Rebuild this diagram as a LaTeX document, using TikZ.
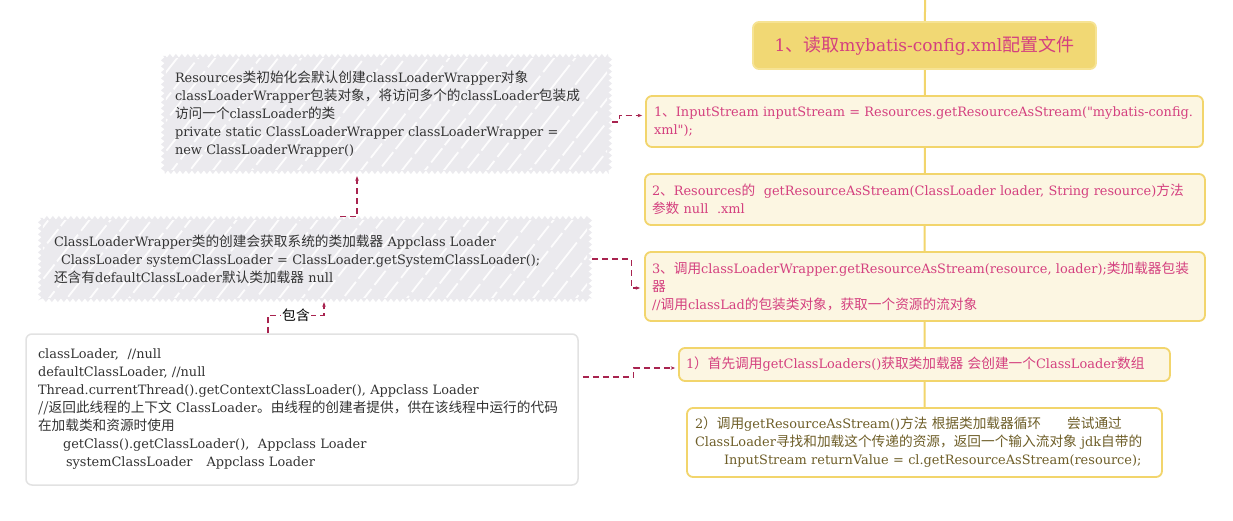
\documentclass[tikz,border=0pt]{standalone}
\usepackage{fontspec}
\setmainfont{DejaVu Serif}[Ligatures=TeXOff]
\newfontfamily\cjkfont{Noto Sans CJK SC}[Scale=1.06]
\newcommand{\zhs}[1]{{\cjkfont #1}}
\usetikzlibrary{arrows.meta,backgrounds,decorations.pathmorphing,calc}
\definecolor{pinktxt}{HTML}{D4407F}
\definecolor{yelline}{HTML}{F2D56C}
\definecolor{creamfill}{HTML}{FCF6E2}
\definecolor{titlefill}{HTML}{F1D874}
\definecolor{titleline}{HTML}{F6E394}
\definecolor{grayfill}{HTML}{EBEAEE}
\definecolor{darktxt}{HTML}{333333}
\definecolor{olivetxt}{HTML}{6E5E28}
\definecolor{connred}{HTML}{A8234F}
\definecolor{boxgray}{HTML}{E2E2E2}
\tikzset{
  txt/.style={font=\fontsize{12.9}{18}\selectfont, align=left, inner ysep=0pt},
  graybox/.style={txt, text=darktxt},
  whitebox/.style={txt, text=darktxt, draw=boxgray, line width=1.5pt, fill=white, rounded corners=6pt},
  yelbox/.style={txt, text=pinktxt, draw=yelline, line width=1.8pt, fill=creamfill, rounded corners=6pt},
  plainbox/.style={txt, text=olivetxt, draw=yelline, line width=1.8pt, fill=white, rounded corners=6pt},
  titlebox/.style={font=\fontsize{17}{20}\selectfont, text=pinktxt, draw=titleline, line width=1.8pt, fill=titlefill, rounded corners=6pt},
  conn/.style={draw=connred, line width=1.1pt, dash pattern=on 6pt off 4pt, -{Stealth[length=4.5pt,width=3.5pt]}},
  lbl/.style={font=\fontsize{13}{14}\selectfont, fill=white, text=black, inner sep=1pt},
  jag/.style={fill=grayfill, decorate, decoration={zigzag, segment length=6pt, amplitude=1.8pt}},
  hatch/.style={draw=white, line width=1.8pt, opacity=0.9, dash pattern=on 34pt off 5pt on 18pt off 4pt}
}
\begin{document}
\begin{tikzpicture}[x=1pt,y=-1pt]
\begin{scope}[on background layer]
  \fill[white] (0,0) rectangle (1233,521);
\end{scope}
\path[use as bounding box] (0,0) rectangle (1233,521);
\coordinate (top) at (925,0);

% right column
\node[titlebox, minimum width=343pt, minimum height=47pt] (title) at (924.5,45.5)
  {1\zhs{、读取}mybatis-config.xml\zhs{配置文件}};
\node[yelbox, minimum width=557pt, minimum height=51pt, inner xsep=8pt, text width=541pt] (b1) at (924.5,121.5)
  {1\zhs{、}InputStream inputStream = Resources.getResourceAsStream("mybatis-config.\\
   xml");};
\node[yelbox, minimum width=560pt, minimum height=51pt, inner xsep=7pt, text width=546pt] (b2) at (925,199.5)
  {2\zhs{、}Resources\zhs{的}\ \ getResourceAsStream(ClassLoader loader, String resource)\zhs{方法}\\
   \zhs{参数} null\ \ .xml};
\node[yelbox, minimum width=560pt, minimum height=69pt, inner xsep=7pt, text width=546pt] (b3) at (925,286.5)
  {3\zhs{、调用}classLoaderWrapper.getResourceAsStream(resource, loader);\zhs{类加载器包装}\\
   \zhs{器}\\
   //\zhs{调用}classLad\zhs{的包装类对象，获取一个资源的流对象}};
\node[yelbox, minimum width=491pt, minimum height=33pt, inner xsep=7pt, text width=477pt] (s1) at (924.5,364.5)
  {1\zhs{）首先调用}getClassLoaders()\zhs{获取类加载器 会创建一个}ClassLoader\zhs{数组}};
\node[plainbox, minimum width=475pt, minimum height=69pt, inner xsep=8pt, text width=459pt] (s2) at (924.5,442.5)
  {2\zhs{）调用}getResourceAsStream()\zhs{方法 根据类加载器循环}\hspace*{26pt}\zhs{尝试通过}\\
   ClassLoader\zhs{寻找和加载这个传递的资源，返回一个输入流对象} jdk\zhs{自带的}\\
   \hspace*{29pt}InputStream returnValue = cl.getResourceAsStream(resource);};

% left column
\node[graybox, minimum width=447pt, minimum height=116pt, inner xsep=12pt, text width=423pt] (A) at (386.5,114)
  {Resources\zhs{类初始化会默认创建}classLoaderWrapper\zhs{对象}\\
   classLoaderWrapper\zhs{包装对象，将访问多个的}classLoader\zhs{包装成}\\
   \zhs{访问一个}classLoader\zhs{的类}\\
   private static ClassLoaderWrapper classLoaderWrapper =\\
   new ClassLoaderWrapper()};
\node[graybox, minimum width=550pt, minimum height=82pt, inner xsep=14pt, text width=522pt] (B) at (315,259)
  {ClassLoaderWrapper\zhs{类的创建会获取系统的类加载器} Appclass Loader\\
   \hspace*{7pt}ClassLoader systemClassLoader = ClassLoader.getSystemClassLoader();\\
   \zhs{还含有}defaultClassLoader\zhs{默认类加载器} null};
\node[whitebox, minimum width=552pt, minimum height=151pt, inner xsep=12pt, text width=528pt] (C) at (302,409.5)
  {classLoader,\ \ //null\\
   defaultClassLoader, //null\\
   Thread.currentThread().getContextClassLoader(), Appclass Loader\\
   \zhs{//返回此线程的上下文} ClassLoader\zhs{。由线程的创建者提供，供在该线程中运行的代码}\\
   \zhs{在加载类和资源时使用}\\
   \hspace*{25pt}getClass().getClassLoader(),\ \ Appclass Loader\\
   \hspace*{28pt}systemClassLoader\hspace*{14pt}Appclass Loader};

% backgrounds: vertical line and jagged hatched boxes
\begin{scope}[on background layer]
  \draw[yelline, line width=2pt] (top) -- (s2.north);
  \foreach \bx in {A,B}{
    \path[jag] (\bx.north west) rectangle (\bx.south east);
    \begin{scope}
      \clip ($(\bx.north west)+(3,3)$) rectangle ($(\bx.south east)+(-3,-3)$);
      \foreach \i/\ph in {0/0,21/9,38/20,62/4,83/15,101/27,124/11,146/2,163/22,187/7,209/17,228/30,251/5,272/13,290/24,313/8,336/19,355/1,377/26,398/12,419/3,441/21,462/10,480/28,503/6,526/16,545/25,567/14,588/2,610/20,631/9}{
        \draw[hatch, dash phase=\ph pt] ($(\bx.south west)+(\i-80,6)$) -- ++(110,-140);
      }
    \end{scope}
  }
\end{scope}

% connectors
\draw[conn] ($(A.east)+(2,8)$) -- ++(7,0) |- ($(b1.west)+(-3,-6)$);
\draw[conn] ($(B.north)+(25,-1)$) -| ($(A.south)+(-29.5,4)$);
\draw[conn] ($(C.north)+(-34,0)$) -- ++(0,-18) -| node[lbl, pos=0.25] (lab) {\zhs{包含}} ($(B.south)+(9,2)$);
\draw[conn] ($(B.east)+(2,0)$) -- ++(39,0) |- ($(b3.west)+(-4,1.5)$);
\draw[conn] ($(C.east)+(4,-32.5)$) -- ++(51,0) |- ($(s1.west)+(-3,3.5)$);
\end{tikzpicture}
\end{document}
